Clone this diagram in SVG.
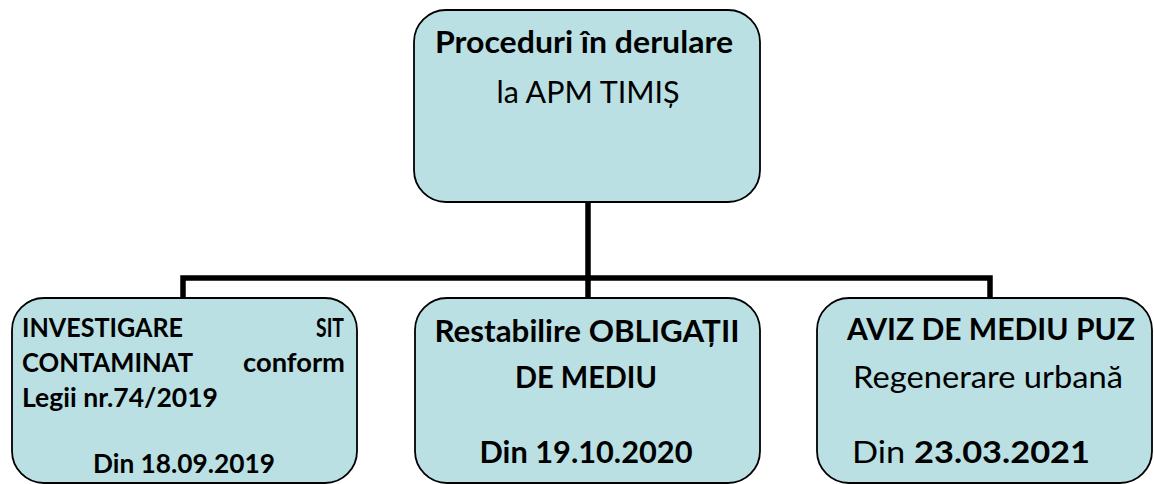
<svg xmlns="http://www.w3.org/2000/svg" width="1154" height="484" viewBox="0 0 1154 484">
<style>
.box{fill:#BAE0E3;stroke:#000;stroke-width:1.8}
.con{fill:none;stroke:#000;stroke-width:5.5}
text{font-family:Lato,"Liberation Sans",sans-serif;fill:#000}
.b{font-weight:bold}
.t28{font-size:30px}
.t24{font-size:26px}
.m{text-anchor:middle}
.e{text-anchor:end}
</style>
<rect width="1154" height="484" fill="#fff"/>
<g id="connectors">
<path class="con" d="M588 202 V278"/>
<path class="con" d="M183 298 V278 H990 V298"/>
<path class="con" d="M588 278 V298"/>
</g>
<g id="node-top">
<rect class="box" x="414" y="10" width="346" height="192" rx="32" ry="32"/>
<text class="t28 b m" x="584" y="53" textLength="298" lengthAdjust="spacingAndGlyphs">Proceduri în derulare</text>
<text class="t28 m" x="588" y="103" textLength="183" lengthAdjust="spacingAndGlyphs">la APM TIMIȘ</text>
</g>
<g id="node-left">
<rect class="box" x="12" y="298" width="345" height="185" rx="32" ry="32"/>
<text class="t24 b" x="22" y="337" textLength="161" lengthAdjust="spacingAndGlyphs">INVESTIGARE</text>
<text class="t24 b e" x="344" y="337" textLength="28" lengthAdjust="spacingAndGlyphs">SIT</text>
<text class="t24 b" x="22" y="372" textLength="171" lengthAdjust="spacingAndGlyphs">CONTAMINAT</text>
<text class="t24 b e" x="345" y="372" textLength="102" lengthAdjust="spacingAndGlyphs">conform</text>
<text class="t24 b" x="22" y="407" textLength="196" lengthAdjust="spacingAndGlyphs">Legii nr.74/2019</text>
<text class="t24 b m" x="184" y="473" textLength="182" lengthAdjust="spacingAndGlyphs">Din 18.09.2019</text>
</g>
<g id="node-middle">
<rect class="box" x="415" y="298" width="345" height="185" rx="32" ry="32"/>
<text class="t28 b m" x="587" y="342" textLength="305" lengthAdjust="spacingAndGlyphs">Restabilire OBLIGAȚII</text>
<text class="t28 b m" x="586" y="388" textLength="142" lengthAdjust="spacingAndGlyphs">DE MEDIU</text>
<text class="t28 b m" x="586" y="463" textLength="213" lengthAdjust="spacingAndGlyphs">Din 19.10.2020</text>
</g>
<g id="node-right">
<rect class="box" x="817" y="298" width="335" height="185" rx="32" ry="32"/>
<text class="t28 b m" x="991" y="340" textLength="288" lengthAdjust="spacingAndGlyphs">AVIZ DE MEDIU PUZ</text>
<text class="t28 m" x="988" y="388" textLength="270" lengthAdjust="spacingAndGlyphs">Regenerare urbană</text>
<text class="t28 m" x="971" y="463" textLength="238" lengthAdjust="spacingAndGlyphs">Din <tspan class="b">23.03.2021</tspan></text>
</g>
</svg>
